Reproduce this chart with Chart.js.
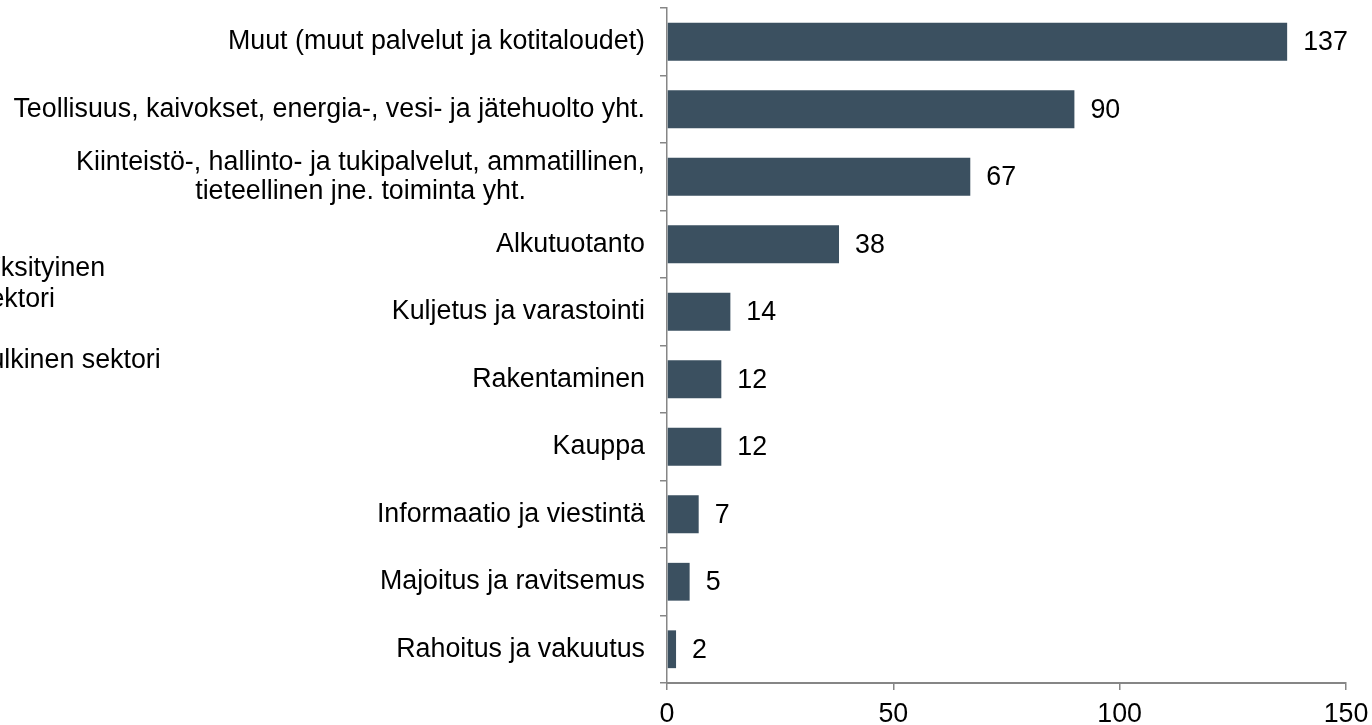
<!DOCTYPE html>
<html>
<head>
<meta charset="utf-8">
<script src="https://cdn.jsdelivr.net/npm/chart.js@4/dist/chart.umd.min.js"></script>
<style>
  html, body { margin: 0; padding: 0; background: #fff; }
  #wrap { width: 1372px; height: 725px; position: relative; }
</style>
</head>
<body>
<div id="wrap"><canvas id="chart_sectors"></canvas></div>
<script>
var categories = [
    'Muut (muut palvelut ja kotitaloudet)',
    'Teollisuus, kaivokset, energia-, vesi- ja jätehuolto yht.',
    ['Kiinteistö-, hallinto- ja tukipalvelut, ammatillinen,', 'tieteellinen jne. toiminta yht.'],
    'Alkutuotanto',
    'Kuljetus ja varastointi',
    'Rakentaminen',
    'Kauppa',
    'Informaatio ja viestintä',
    'Majoitus ja ravitsemus',
    'Rahoitus ja vakuutus'
];
var values = [137, 90, 67, 38, 14, 12, 12, 7, 5, 2];
var xTicks = [0, 50, 100, 150];
var sideLabels = [['Yksityinen', 'sektori'], ['Julkinen sektori']];

var FONT = '"Liberation Sans", Arial, sans-serif';
var FSIZE = 26.8;
var AXIS = '#868686';

var chart_sectors = new Chart(document.getElementById('chart_sectors'), {
    type: 'bar',
    data: {
        labels: categories,
        datasets: [{
            data: values,
            backgroundColor: '#3b5060',
            barPercentage: 0.56,
            categoryPercentage: 1
        }]
    },
    options: {
        indexAxis: 'y',
        animation: false,
        responsive: true,
        maintainAspectRatio: false,
        layout: { padding: { top: 8, right: 26, left: 0, bottom: 0 } },
        plugins: {
            legend: { display: false },
            tooltip: { enabled: false }
        },
        scales: {
            x: {
                min: xTicks[0],
                max: xTicks[xTicks.length - 1],
                afterBuildTicks: function (s) { s.ticks = xTicks.map(function (v) { return { value: v }; }); },
                afterFit: function (s) { s.height = 42; s.paddingLeft = 0; s.paddingRight = 0; },
                border: { color: AXIS, width: 2 },
                grid: { drawOnChartArea: false, drawTicks: true, tickLength: 7, color: AXIS, lineWidth: 1.5 },
                ticks: { color: '#000', padding: 9, maxRotation: 0, font: { family: FONT, size: FSIZE } }
            },
            y: {
                afterFit: function (s) { s.width = 667; },
                border: { color: AXIS, width: 1.5 },
                grid: { offset: true, drawOnChartArea: false, drawTicks: true, tickLength: 7, color: AXIS, lineWidth: 1.5 },
                ticks: { display: false }
            }
        }
    },
    plugins: [{
        id: 'textPlugin',
        afterDraw: function (chart) {
            var ctx = chart.ctx;
            var xs = chart.scales.x, ys = chart.scales.y;
            ctx.save();
            ctx.fillStyle = '#000';
            ctx.font = FSIZE + 'px ' + FONT;
            ctx.textBaseline = 'middle';
            // category labels
            var right = chart.chartArea.left - 22;
            categories.forEach(function (lab, i) {
                var y = ys.getPixelForValue(i);
                var lines = Array.isArray(lab) ? lab : [lab];
                var w = Math.max.apply(null, lines.map(function (l) { return ctx.measureText(l).width; }));
                var cx = right - w / 2;
                ctx.textAlign = 'center';
                lines.forEach(function (l, k) {
                    ctx.fillText(l, cx, y + (k - (lines.length - 1) / 2) * 29);
                });
            });
            // value labels
            ctx.textAlign = 'left';
            values.forEach(function (v, i) {
                ctx.fillText(String(v), xs.getPixelForValue(v) + 16, ys.getPixelForValue(i) + 1);
            });
            // cut-off side labels
            ctx.fillText(sideLabels[0][0], -17, 269);
            ctx.fillText(sideLabels[0][1], -24, 300);
            ctx.fillText(sideLabels[1][0], -24, 361);
            ctx.restore();
        }
    }, {
        id: 'whiteBg',
        beforeDraw: function (chart) {
            var ctx = chart.canvas.getContext('2d');
            ctx.save();
            ctx.globalCompositeOperation = 'destination-over';
            ctx.fillStyle = 'white';
            ctx.fillRect(0, 0, chart.canvas.width, chart.canvas.height);
            ctx.restore();
        }
    }]
});
</script>
</body>
</html>
